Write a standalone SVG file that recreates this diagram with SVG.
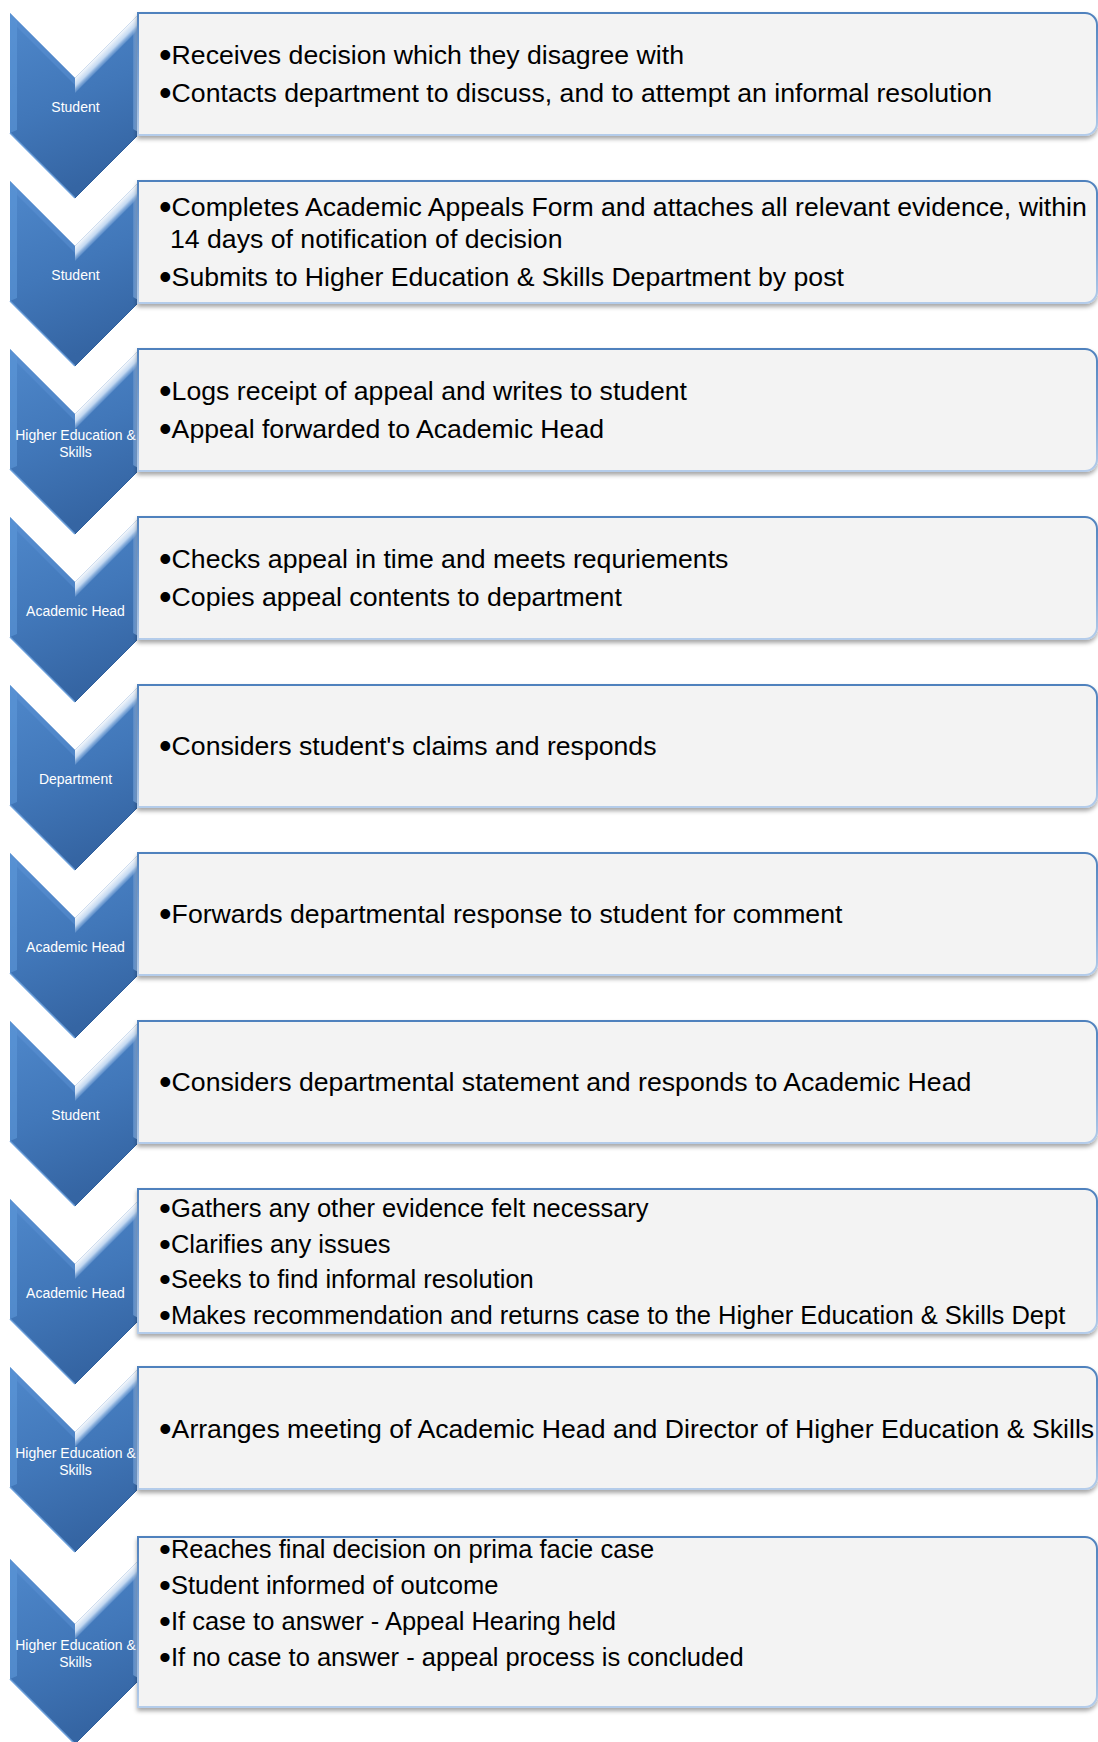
<svg xmlns="http://www.w3.org/2000/svg" xmlns:xlink="http://www.w3.org/1999/xlink" width="1098" height="1742" viewBox="0 0 1098 1742">
<style>
.lbl{font-family:"Liberation Sans",Arial,sans-serif;font-size:14px;fill:#ffffff;text-anchor:middle}
.txt{font-family:"Liberation Sans",Arial,sans-serif;font-size:26.65px;fill:#000000}
.sm{font-size:25.5px}
.b{font-size:36px}
.sm .b{font-size:34px}
.box{fill:#F3F3F3;stroke:url(#bs);stroke-width:2;filter:url(#sh)}
</style>
<defs>
<linearGradient id="cg" x1="0" y1="0" x2="0.3" y2="1">
<stop offset="0" stop-color="#4F88CB"/>
<stop offset="0.55" stop-color="#4177B9"/>
<stop offset="1" stop-color="#3565A3"/>
</linearGradient>
<linearGradient id="rb" gradientUnits="userSpaceOnUse" x1="132" y1="0" x2="140" y2="0">
<stop offset="0" stop-color="#4A80C2"/>
<stop offset="1" stop-color="#A9C8EE"/>
</linearGradient>
<linearGradient id="hl" gradientUnits="userSpaceOnUse" x1="107.5" y1="32.5" x2="116" y2="41">
<stop offset="0" stop-color="#FFFFFF" stop-opacity="0.95"/>
<stop offset="0.5" stop-color="#D8E8FA" stop-opacity="0.85"/>
<stop offset="1" stop-color="#6A9BD6" stop-opacity="0.25"/>
</linearGradient>
<linearGradient id="bs" x1="0" y1="0" x2="0" y2="1">
<stop offset="0" stop-color="#4F81BD"/>
<stop offset="0.5" stop-color="#7BA2D4"/>
<stop offset="1" stop-color="#B4CCEA"/>
</linearGradient>
<filter id="sh" x="-5%" y="-20%" width="110%" height="150%">
<feDropShadow dx="0" dy="3" stdDeviation="2" flood-color="#000000" flood-opacity="0.35"/>
</filter>
<g id="chev">
<path d="M10,0 L75,65 L140,0 L140,120 L75,185 L10,120 Z" fill="url(#cg)"/>
<path d="M10,0 L17,8 L17,117 L10,120 Z" fill="#5E97D8" opacity="0.6"/>
<path d="M10,0 L75,65 L75,72 L17,14 Z" fill="#5B92D3" opacity="0.5"/>
<path d="M140,0 L140,120 L133,116 L133,8 Z" fill="url(#rb)"/>
<path d="M140,0 L75,65 L75,80 L138,17 Z" fill="url(#hl)"/>
<path d="M10,120 L75,185" stroke="#6A9ED9" stroke-width="1.5" fill="none"/>
<path d="M75,185 L140,120" stroke="#2F5F9C" stroke-width="1" fill="none"/>
</g>
</defs>

<g id="step1">
<use xlink:href="#chev" href="#chev" y="13"/>
<text class="lbl" x="75.5" y="112">Student</text>
<path class="box" d="M138,13 H1085 A12,12 0 0 1 1097,25 V123 A12,12 0 0 1 1085,135 H138 Z"/>
<text class="txt" x="159" y="64"><tspan class="b" dy="3">•</tspan><tspan dy="-3">Receives decision which they disagree with</tspan></text>
<text class="txt" x="159" y="102"><tspan class="b" dy="3">•</tspan><tspan dy="-3">Contacts department to discuss, and to attempt an informal resolution</tspan></text>
</g>

<g id="step2">
<use xlink:href="#chev" href="#chev" y="181"/>
<text class="lbl" x="75.5" y="280">Student</text>
<path class="box" d="M138,181 H1085 A12,12 0 0 1 1097,193 V291 A12,12 0 0 1 1085,303 H138 Z"/>
<text class="txt" x="159" y="216"><tspan class="b" dy="3">•</tspan><tspan dy="-3">Completes Academic Appeals Form and attaches all relevant evidence, within</tspan></text>
<text class="txt" x="170" y="248">14 days of notification of decision</text>
<text class="txt" x="159" y="286"><tspan class="b" dy="3">•</tspan><tspan dy="-3">Submits to Higher Education &amp; Skills Department by post</tspan></text>
</g>

<g id="step3">
<use xlink:href="#chev" href="#chev" y="349"/>
<text class="lbl" x="75.5" y="439.5">Higher Education &amp;</text>
<text class="lbl" x="75.5" y="457">Skills</text>
<path class="box" d="M138,349 H1085 A12,12 0 0 1 1097,361 V459 A12,12 0 0 1 1085,471 H138 Z"/>
<text class="txt" x="159" y="400"><tspan class="b" dy="3">•</tspan><tspan dy="-3">Logs receipt of appeal and writes to student</tspan></text>
<text class="txt" x="159" y="438"><tspan class="b" dy="3">•</tspan><tspan dy="-3">Appeal forwarded to Academic Head</tspan></text>
</g>

<g id="step4">
<use xlink:href="#chev" href="#chev" y="517"/>
<text class="lbl" x="75.5" y="616">Academic Head</text>
<path class="box" d="M138,517 H1085 A12,12 0 0 1 1097,529 V627 A12,12 0 0 1 1085,639 H138 Z"/>
<text class="txt" x="159" y="568"><tspan class="b" dy="3">•</tspan><tspan dy="-3">Checks appeal in time and meets requriements</tspan></text>
<text class="txt" x="159" y="606"><tspan class="b" dy="3">•</tspan><tspan dy="-3">Copies appeal contents to department</tspan></text>
</g>

<g id="step5">
<use xlink:href="#chev" href="#chev" y="685"/>
<text class="lbl" x="75.5" y="784">Department</text>
<path class="box" d="M138,685 H1085 A12,12 0 0 1 1097,697 V795 A12,12 0 0 1 1085,807 H138 Z"/>
<text class="txt" x="159" y="755"><tspan class="b" dy="3">•</tspan><tspan dy="-3">Considers student's claims and responds</tspan></text>
</g>

<g id="step6">
<use xlink:href="#chev" href="#chev" y="853"/>
<text class="lbl" x="75.5" y="952">Academic Head</text>
<path class="box" d="M138,853 H1085 A12,12 0 0 1 1097,865 V963 A12,12 0 0 1 1085,975 H138 Z"/>
<text class="txt" x="159" y="923"><tspan class="b" dy="3">•</tspan><tspan dy="-3">Forwards departmental response to student for comment</tspan></text>
</g>

<g id="step7">
<use xlink:href="#chev" href="#chev" y="1021"/>
<text class="lbl" x="75.5" y="1120">Student</text>
<path class="box" d="M138,1021 H1085 A12,12 0 0 1 1097,1033 V1131 A12,12 0 0 1 1085,1143 H138 Z"/>
<text class="txt" x="159" y="1091"><tspan class="b" dy="3">•</tspan><tspan dy="-3">Considers departmental statement and responds to Academic Head</tspan></text>
</g>

<g id="step8">
<use xlink:href="#chev" href="#chev" y="1199"/>
<text class="lbl" x="75.5" y="1298">Academic Head</text>
<path class="box" d="M138,1189 H1085 A12,12 0 0 1 1097,1201 V1321 A12,12 0 0 1 1085,1333 H138 Z"/>
<text class="txt sm" x="159" y="1217"><tspan class="b" dy="3">•</tspan><tspan dy="-3">Gathers any other evidence felt necessary</tspan></text>
<text class="txt sm" x="159" y="1252.5"><tspan class="b" dy="3">•</tspan><tspan dy="-3">Clarifies any issues</tspan></text>
<text class="txt sm" x="159" y="1288"><tspan class="b" dy="3">•</tspan><tspan dy="-3">Seeks to find informal resolution</tspan></text>
<text class="txt sm" x="159" y="1323.5"><tspan class="b" dy="3">•</tspan><tspan dy="-3">Makes recommendation and returns case to the Higher Education &amp; Skills Dept</tspan></text>
</g>

<g id="step9">
<use xlink:href="#chev" href="#chev" y="1367"/>
<text class="lbl" x="75.5" y="1457.5">Higher Education &amp;</text>
<text class="lbl" x="75.5" y="1475">Skills</text>
<path class="box" d="M138,1367 H1085 A12,12 0 0 1 1097,1379 V1477 A12,12 0 0 1 1085,1489 H138 Z"/>
<text class="txt" x="159" y="1438"><tspan class="b" dy="3">•</tspan><tspan dy="-3">Arranges meeting of Academic Head and Director of Higher Education &amp; Skills</tspan></text>
</g>

<g id="step10">
<use xlink:href="#chev" href="#chev" y="1559"/>
<text class="lbl" x="75.5" y="1649.5">Higher Education &amp;</text>
<text class="lbl" x="75.5" y="1667">Skills</text>
<path class="box" d="M138,1537 H1085 A12,12 0 0 1 1097,1549 V1695 A12,12 0 0 1 1085,1707 H138 Z"/>
<text class="txt sm" x="159" y="1558"><tspan class="b" dy="3">•</tspan><tspan dy="-3">Reaches final decision on prima facie case</tspan></text>
<text class="txt sm" x="159" y="1594"><tspan class="b" dy="3">•</tspan><tspan dy="-3">Student informed of outcome</tspan></text>
<text class="txt sm" x="159" y="1630"><tspan class="b" dy="3">•</tspan><tspan dy="-3">If case to answer - Appeal Hearing held</tspan></text>
<text class="txt sm" x="159" y="1666"><tspan class="b" dy="3">•</tspan><tspan dy="-3">If no case to answer - appeal process is concluded</tspan></text>
</g>
</svg>
